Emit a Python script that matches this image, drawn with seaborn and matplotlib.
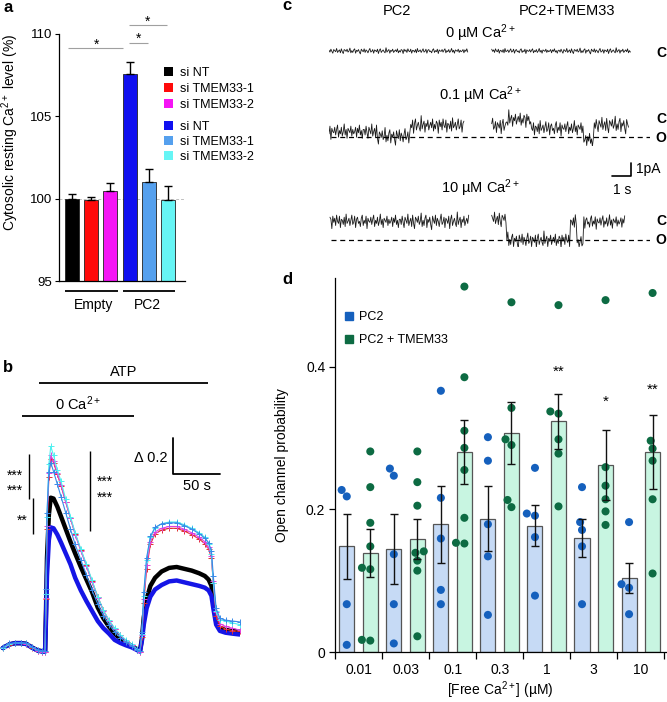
import numpy as np
import pandas as pd
import seaborn as sns
import matplotlib.pyplot as plt
from matplotlib.patches import Patch
from matplotlib.lines import Line2D

# ---- panel a: resting Ca2+ bars
A_GROUPS = ["Empty", "PC2"]
A_SIRNA = ["si NT", "si TMEM33-1", "si TMEM33-2"]
A_MEAN = [100.0, 99.9, 100.45, 107.6, 101.0, 99.9]
A_SEM = [0.3, 0.2, 0.53, 0.67, 0.8, 0.85]
A_COLORS = ["#000000", "#ff0a0a", "#f514f5", "#1010f0", "#55a0ee", "#66f5f5"]

# ---- panel b: ratio traces (time in s, delta ratio)
B_T = [3, 10, 16, 22, 28, 34, 40, 45, 48, 49, 50, 52, 54, 57, 61, 65, 70, 75, 80, 86,
       92, 98, 104, 110, 116, 122, 128, 134, 140, 146, 149, 151, 153, 156, 160, 165, 172,
       180, 188, 196, 204, 212, 218, 222, 225, 227, 230, 234, 240, 247, 255]
B_BLACK = [0.0, 0.02, 0.027, 0.027, 0.023, 0.003, -0.013, -0.018, -0.018, 0.22, 0.50, 0.74,
           0.835, 0.83, 0.785, 0.73, 0.66, 0.59, 0.525, 0.45, 0.38, 0.31, 0.225, 0.165, 0.118,
           0.08, 0.05, 0.03, 0.012, -0.008, -0.015, 0.05, 0.17, 0.27, 0.345, 0.39, 0.425,
           0.445, 0.45, 0.44, 0.43, 0.415, 0.40, 0.38, 0.345, 0.26, 0.15, 0.11, 0.10, 0.095, 0.09]
B_BLUE = [0.0, 0.02, 0.027, 0.027, 0.022, 0.002, -0.014, -0.02, -0.02, 0.17, 0.40, 0.60,
          0.67, 0.665, 0.63, 0.585, 0.525, 0.465, 0.39, 0.32, 0.26, 0.205, 0.15, 0.11, 0.08,
          0.045, 0.028, 0.015, 0.004, -0.012, -0.02, 0.04, 0.13, 0.22, 0.285, 0.325, 0.35,
          0.37, 0.375, 0.365, 0.355, 0.345, 0.335, 0.32, 0.29, 0.22, 0.13, 0.095, 0.085, 0.08, 0.075]
B_RED = [0.0, 0.018, 0.025, 0.025, 0.02, 0.002, -0.015, -0.02, -0.02, 0.27, 0.66, 0.95,
         1.05, 1.03, 0.965, 0.90, 0.81, 0.72, 0.635, 0.545, 0.46, 0.37, 0.285, 0.21, 0.152,
         0.107, 0.07, 0.04, 0.018, -0.012, -0.022, 0.06, 0.25, 0.44, 0.575, 0.635, 0.655,
         0.665, 0.665, 0.65, 0.63, 0.605, 0.58, 0.55, 0.50, 0.36, 0.18, 0.12, 0.105, 0.097, 0.093]
B_MAGENTA = [0.0, 0.02, 0.026, 0.026, 0.022, 0.003, -0.014, -0.02, -0.02, 0.28, 0.68, 0.97,
             1.07, 1.04, 0.97, 0.905, 0.81, 0.72, 0.63, 0.54, 0.455, 0.365, 0.28, 0.205, 0.15,
             0.105, 0.07, 0.04, 0.018, -0.012, -0.022, 0.07, 0.27, 0.46, 0.59, 0.645, 0.665,
             0.675, 0.675, 0.66, 0.64, 0.615, 0.59, 0.56, 0.51, 0.37, 0.20, 0.135, 0.12, 0.11, 0.10]
B_CYAN = [0.0, 0.02, 0.028, 0.028, 0.025, 0.005, -0.012, -0.018, -0.018, 0.30, 0.73, 1.02,
          1.12, 1.07, 0.99, 0.925, 0.825, 0.73, 0.64, 0.55, 0.465, 0.375, 0.285, 0.21, 0.155,
          0.11, 0.074, 0.045, 0.022, -0.008, -0.018, 0.08, 0.29, 0.49, 0.615, 0.667, 0.69,
          0.70, 0.70, 0.685, 0.665, 0.64, 0.615, 0.58, 0.52, 0.36, 0.205, 0.157, 0.15, 0.14, 0.13]
B_LIGHTBLUE = [0.005, 0.025, 0.03, 0.03, 0.027, 0.006, -0.01, -0.016, -0.016, 0.33, 0.75, 0.98,
               1.03, 0.98, 0.91, 0.84, 0.75, 0.66, 0.575, 0.49, 0.405, 0.32, 0.245, 0.18, 0.13,
               0.09, 0.058, 0.032, 0.012, -0.01, -0.016, 0.09, 0.31, 0.50, 0.62, 0.67, 0.69,
               0.695, 0.695, 0.68, 0.66, 0.635, 0.61, 0.585, 0.54, 0.40, 0.22, 0.165, 0.155, 0.15, 0.145]

# ---- panel c: single channel traces, (segment end in s, current in pA), closed = 0
C_CONC = ["0", "0.1", "10"]
C_PC2 = [
    (0.0, [(7.3, 0.0)]),
    (0.0, [(2.5, -0.82), (4.26, -1.18), (7.1, -0.35)]),
    (0.05, [(7.33, 0.05)]),
]
C_TMEM = [
    (8.56, [(15.88, 0.0)]),
    (8.56, [(9.35, -0.38), (10.58, 0.1), (13.39, -0.56), (13.91, -1.46), (15.75, -0.31)]),
    (8.56, [(9.35, 0.2), (12.68, -1.41), (13.03, 0.0), (13.39, -1.6), (15.58, 0.0)]),
]
C_OPEN = [None, -1.25, -1.35]
C_NOISE_SCALE = [0.028, 0.085, 0.08]
NOISE = [
    2, -3, 5, -1, -6, 4, 1, -2, 7, -4, 0, 3, -5, 6, -2, -7, 4, 2, -1, 5,
    -3, 0, 8, -5, 1, -4, 3, 6, -6, 2, -1, 4, -3, -8, 5, 1, -2, 6, -4, 3,
    0, -5, 2, 7, -3, -1, 4, -6, 3, 1, -2, 5, -7, 2, 6, -4, 0, 3, -2, -5,
    9, -3, 1, 4, -6, 2, -1, 5, -4, 0, 3, -2, 6, -5, 1, -3, 4, 2, -7, 5,
    -1, 3, -4, 6, 0, -2, 5, -6, 2, 1, -3, 4, -5, 7, -2, 0, 3, -4, 1, 6,
    -3, -1, 5, -6, 2, 4, -2, 0, -5, 3, 6, -4, 1, -2, 5, -7, 3, 0, -1, 4,
    -3, 2, 6, -5, 1, -2, 4, -4, 0, 7, -3, 2, -6, 3, 1, -1, 5, -4, 2, -2,
    0, 4, -5, 3, -1, 6, -3, 1, -6, 2,
]
DT = 0.05

# ---- panel d: open probability
D_CONC = ["0.01", "0.03", "0.1", "0.3", "1", "3", "10"]
D_COND = ["PC2", "PC2 + TMEM33"]
D_PC2_MEAN = [0.148, 0.144, 0.179, 0.187, 0.177, 0.160, 0.103]
D_PC2_SEM = [0.046, 0.049, 0.054, 0.046, 0.029, 0.027, 0.021]
D_TM_MEAN = [0.139, 0.158, 0.280, 0.307, 0.323, 0.262, 0.280]
D_TM_SEM = [0.034, 0.028, 0.045, 0.043, 0.039, 0.049, 0.052]
D_PC2_PTS = [
    [0.227, 0.218, 0.067, 0.010],
    [0.257, 0.247, 0.137, 0.067, 0.012],
    [0.366, 0.216, 0.159, 0.087, 0.067],
    [0.301, 0.268, 0.179, 0.134, 0.052],
    [0.258, 0.194, 0.191, 0.161, 0.079],
    [0.231, 0.182, 0.171, 0.148, 0.067],
    [0.182, 0.095, 0.090, 0.053],
]
D_TM_PTS = [
    [0.281, 0.231, 0.181, 0.148, 0.118, 0.116, 0.017, 0.016],
    [0.281, 0.238, 0.205, 0.141, 0.139, 0.128, 0.114, 0.022],
    [0.512, 0.385, 0.310, 0.286, 0.255, 0.188, 0.153, 0.152],
    [0.490, 0.342, 0.298, 0.290, 0.213, 0.203],
    [0.486, 0.337, 0.334, 0.298, 0.278, 0.204],
    [0.493, 0.259, 0.233, 0.214, 0.197, 0.178],
    [0.503, 0.296, 0.285, 0.268, 0.214, 0.110],
]
D_STARS = {"1": ("**", 0.393), "3": ("*", 0.351), "10": ("**", 0.367)}

CA = r"$\mathregular{Ca^{2+}}$"

sns.set_style("ticks")
plt.rcParams["font.family"] = ["Liberation Sans", "DejaVu Sans"]
plt.rcParams.update({
    "mathtext.fontset": "custom",
    "mathtext.rm": "Liberation Sans",
    "mathtext.it": "Liberation Sans:italic",
    "mathtext.bf": "Liberation Sans:bold",
    "text.color": "black", "axes.labelcolor": "black", "axes.edgecolor": "black",
    "xtick.color": "black", "ytick.color": "black",
})

W, H = 667, 702
fig = plt.figure(figsize=(W / 100, H / 100), dpi=100)


def px_axes(x0, y0, x1, y1):
    return fig.add_axes([x0 / W, 1 - y1 / H, (x1 - x0) / W, (y1 - y0) / H])


# overlay in pixel coordinates for labels and annotations
ov = fig.add_axes([0, 0, 1, 1], zorder=10)
ov.set_xlim(0, W)
ov.set_ylim(H, 0)
ov.set_axis_off()


def seg(x0, y0, x1, y1, color="black", lw=1.0):
    ov.plot([x0, x1], [y0, y1], color=color, lw=lw, solid_capstyle="butt")


def txt(x, y, s, size=10, ha="center", va="center", **kw):
    ov.text(x, y, s, fontsize=size, ha=ha, va=va, **kw)


# ================= panel a
axa = px_axes(59, 34, 185, 281)
df_a = pd.DataFrame({"bar": [f"{g} {s}" for g in A_GROUPS for s in A_SIRNA], "value": A_MEAN})
sns.barplot(df_a, x="bar", y="value", hue="bar", palette=A_COLORS, legend=False, saturation=1,
            width=0.73, edgecolor="#222222", linewidth=0.6, ax=axa, zorder=2)
axa.errorbar(range(6), A_MEAN, yerr=[np.zeros(6), A_SEM], fmt="none", ecolor="black",
             elinewidth=1.0, capsize=3, capthick=1.0, zorder=3)
axa.axhline(100, color="#c0c0c0", ls=(0, (3, 2)), lw=0.7, zorder=1)
axa.set_xlim(-0.68, 5.89)
axa.set_ylim(95, 110)
axa.set_yticks([95, 100, 105, 110])
axa.set_xticks([])
axa.set_xlabel("")
axa.set_ylabel(f"Cytosolic resting {CA} level (%)", fontsize=10)
axa.yaxis.set_label_coords(-0.30, 0.6)
sns.despine(ax=axa)
for sp in axa.spines.values():
    sp.set_linewidth(0.9)
axa.tick_params(axis="y", length=3, width=0.8, labelsize=9.5, pad=2)

h_a = [Patch(facecolor=c, edgecolor="none") for c in A_COLORS]
fig.legend(h_a[:3], A_SIRNA, loc="upper left", bbox_to_anchor=(164 / W, 1 - 67 / H),
           frameon=False, fontsize=9, handlelength=0.75, handleheight=0.75,
           handletextpad=0.5, labelspacing=0.33, borderpad=0, borderaxespad=0)
fig.legend(h_a[3:], A_SIRNA, loc="upper left", bbox_to_anchor=(164 / W, 1 - 121 / H),
           frameon=False, fontsize=9, handlelength=0.75, handleheight=0.75,
           handletextpad=0.5, labelspacing=0.25, borderpad=0, borderaxespad=0)

seg(68, 48, 123, 48, color="#a0a0a0", lw=0.8)
seg(129, 43, 148, 43, color="#a0a0a0", lw=0.8)
seg(129, 25, 167, 25, color="#a0a0a0", lw=0.8)
txt(97, 45, "*", 10)
txt(139, 39, "*", 10)
txt(148, 22, "*", 10)
seg(65, 291, 118, 291, lw=1.3)
seg(123, 291, 175, 291, lw=1.3)
txt(94, 305, "Empty", 10)
txt(147, 305, "PC2", 10)

# ================= panel b
axb = px_axes(0, 340, 240, 702)
for vals, col, style in [(B_BLACK, "black", "thick"), (B_BLUE, "#1515e6", "thick"),
                         (B_RED, "#e03030", "plus"), (B_MAGENTA, "#e040e0", "plus"),
                         (B_CYAN, "#4ff0f0", "plus"), (B_LIGHTBLUE, "#3a8ae8", "plus")]:
    if style == "thick":
        axb.plot(B_T, vals, color=col, lw=3.2, solid_capstyle="round")
    else:
        axb.plot(B_T, vals, color=col, lw=0.8, marker="+", ms=4, mew=0.7)
axb.set_xlim(0, 255.4)
axb.set_ylim(-0.3, 1.711)
axb.set_axis_off()
# scale bar: 0.2 ratio, 50 s
axb.plot([184, 184, 234], [0.967 + 0.2, 0.967, 0.967], color="black", lw=1.3, clip_on=False)
txt(167, 458, "\u0394 0.2", 10.5, ha="right")
txt(197, 486, "50 s", 10.5)

seg(39, 383, 208, 383, lw=1.3)
txt(124, 372, "ATP", 10.5)
seg(22, 416, 134, 416, lw=1.3)
txt(78, 404, f"0 {CA}", 10.5)
seg(29, 454, 29, 499)
seg(33, 498, 33, 534)
seg(90, 451, 90, 531)
txt(15, 476, "***", 10)
txt(15, 491, "***", 10)
txt(22, 521, "**", 10)
txt(105, 482, "***", 10)
txt(105, 498, "***", 10)

# ================= panel c


def trace_xy(t0, segs, scale, shift):
    ends = np.array([e for e, _ in segs])
    levels = np.array([lv for _, lv in segs])
    n = int(round((ends[-1] - t0) / DT)) + 1
    t = t0 + DT * np.arange(n)
    idx = np.minimum(np.searchsorted(ends, t), len(ends) - 1)
    return t, levels[idx] + np.roll(NOISE, shift)[:n] * scale


closed_y = [51, 121, 222]
for i, yc in enumerate(closed_y):
    axc = px_axes(329, yc - 25, 650, yc + 25)
    axc.set_xlim(0, 16.89)
    axc.set_ylim(-1.923, 1.923)
    axc.set_axis_off()
    for j, (t0, segs) in enumerate([C_PC2[i], C_TMEM[i]]):
        t, v = trace_xy(t0, segs, C_NOISE_SCALE[i], 37 * i + 71 * j)
        axc.plot(t, v, color="#1a1a1a", lw=0.6)
    if C_OPEN[i] is not None:
        axc.plot([0.1, 16.89], [C_OPEN[i]] * 2, color="black", lw=0.9, ls=(0, (4, 3)))
    if i == 1:
        axc.plot([14.9, 15.9, 15.9], [-4.23, -4.23, -3.23], color="black", lw=1.2, clip_on=False)

txt(397, 11, "PC2", 10.5)
txt(567, 11, "PC2+TMEM33", 10.5)
for conc, y in zip(C_CONC, [33, 95, 188]):
    txt(480, y, f"{conc} \u00b5M {CA}", 10.5)
for lab, y in [("C", 53), ("C", 119), ("O", 138), ("C", 221), ("O", 240)]:
    txt(661, y, lab, 10, fontweight="bold")
txt(636, 169, "1pA", 10, ha="left")
txt(622, 190, "1 s", 10)

# ================= panel d
cats = [f"{c}|{k}" for c in D_CONC for k in D_COND]
rows = []
for c, p_pts, t_pts in zip(D_CONC, D_PC2_PTS, D_TM_PTS):
    rows += [(f"{c}|{D_COND[0]}", D_COND[0], v) for v in p_pts]
    rows += [(f"{c}|{D_COND[1]}", D_COND[1], v) for v in t_pts]
df_pts = pd.DataFrame(rows, columns=["cat", "cond", "p"])
means, sems = [], []
for pm, ps, tm, ts in zip(D_PC2_MEAN, D_PC2_SEM, D_TM_MEAN, D_TM_SEM):
    means += [pm, tm]
    sems += [ps, ts]
df_bars = pd.DataFrame({"cat": cats, "cond": D_COND * len(D_CONC), "mean": means})

axd = px_axes(335, 278, 666, 652)
sns.barplot(df_bars, x="cat", y="mean", hue="cond", order=cats, hue_order=D_COND,
            palette=["#c6daf5", "#c8f5e1"], saturation=1, width=0.64, edgecolor="#555555",
            linewidth=0.9, legend=False, ax=axd, zorder=1)
sns.swarmplot(df_pts, x="cat", y="p", hue="cond", order=cats, hue_order=D_COND,
              palette=["#1560bd", "#0d6b43"], size=5.8, linewidth=0, legend=False,
              ax=axd, zorder=3)
axd.errorbar(range(len(cats)), means, yerr=sems, fmt="none", ecolor="#111111",
             elinewidth=1.0, capsize=3, capthick=1.0, zorder=4)
for c, (s, y) in D_STARS.items():
    axd.text(cats.index(f"{c}|{D_COND[1]}"), y, s, ha="center", va="center", fontsize=11)
axd.set_xlim(-0.5, 13.57)
axd.set_ylim(0, 0.524)
axd.set_yticks([0, 0.2, 0.4])
axd.set_yticklabels(["0", "0.2", "0.4"])
axd.set_xticks(np.arange(-0.5, 14, 2))
axd.set_xticklabels([])
axd.set_xticks(np.arange(0.5, 14, 2), minor=True)
axd.set_xticklabels(D_CONC, minor=True)
axd.tick_params(axis="x", which="major", length=5, width=0.9)
axd.tick_params(axis="x", which="minor", length=0, pad=8, labelsize=10)
axd.tick_params(axis="y", length=4, width=0.9, labelsize=10, pad=3)
axd.set_xlabel(f"[Free {CA}] (\u00b5M)", fontsize=10)
axd.xaxis.set_label_coords(0.498, -0.072)
axd.set_ylabel("Open channel probability", fontsize=10)
axd.yaxis.set_label_coords(-0.139, 0.5)
sns.despine(ax=axd)
for sp in axd.spines.values():
    sp.set_linewidth(0.9)
h_d = [Line2D([], [], marker="s", ls="", color=c, markersize=6) for c in ["#1560bd", "#0d6b43"]]
fig.legend(h_d, D_COND, loc="upper left", bbox_to_anchor=(344 / W, 1 - 311 / H),
           frameon=False, fontsize=9, handlelength=0.8, handletextpad=0.4,
           labelspacing=0.9, borderpad=0, borderaxespad=0)

# panel letters
for lab, x, y in [("a", 3, 7), ("b", 3, 368), ("c", 282, 6), ("d", 282, 279)]:
    txt(x, y, lab, 12, ha="left", fontweight="bold")

fig.savefig("out.png", dpi=100)
